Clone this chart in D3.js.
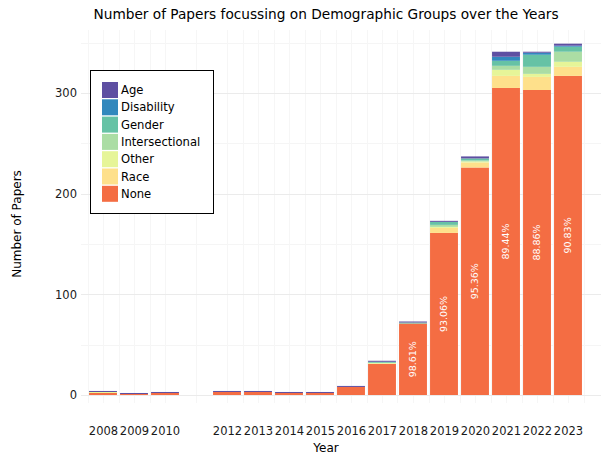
<!DOCTYPE html>
<html>
<head>
<meta charset="utf-8">
<script src="https://cdn.jsdelivr.net/npm/d3@7"></script>
<style>
  body { margin: 0; background: #fff; }
  svg { display: block; font-family: "DejaVu Sans", sans-serif; }
</style>
</head>
<body>
<svg id="chart" width="601" height="454"></svg>
<script>
const years = [2008, 2009, 2010, 2012, 2013, 2014, 2015, 2016, 2017, 2018, 2019, 2020, 2021, 2022, 2023];
const categories = ["Age", "Disability", "Gender", "Intersectional", "Other", "Race", "None"];
const colors = ["#5E4FA2", "#3288BD", "#66C2A5", "#ABDDA4", "#E6F598", "#FEE08B", "#F46D43"];

const none           = [2, 1, 2, 3, 3, 2, 2, 8, 31, 71, 161, 226, 305, 303, 317];
const race           = [0, 0, 0, 0, 0, 0, 0, 0, 0, 0, 5, 5, 12, 13, 9];
const other          = [1, 0, 0, 0, 0, 0, 0, 0, 1, 0, 1, 1, 6, 3, 5];
const intersectional = [0, 0, 0, 0, 0, 0, 0, 0, 0, 0, 2, 1, 4, 7, 10];
const gender         = [0, 0, 0, 0, 0, 0, 0, 0, 1, 1, 3, 2, 5, 12, 5];
const disability     = [0, 0, 0, 0, 0, 0, 0, 0, 0, 0, 0, 0, 4, 2, 1];
const age            = [1, 1, 1, 1, 1, 1, 1, 1, 1, 1, 1, 2, 5, 1, 2];

const pctLabels = ["", "", "", "", "", "", "", "", "", "98.61%", "93.06%", "95.36%", "89.44%", "88.86%", "90.83%"];

const yTicks = [0, 100, 200, 300];
const yMinor = [50, 150, 250, 350];

const seriesByCat = { Age: age, Disability: disability, Gender: gender, Intersectional: intersectional, Other: other, Race: race, None: none };

const rows = years.map((y, i) => {
  const r = { year: y };
  categories.forEach(c => r[c] = seriesByCat[c][i]);
  return r;
});

const svg = d3.select("#chart");
const panel = { left: 81, right: 601, top: 30, bottom: 403 };

const x = d3.scaleLinear().domain([2008, 2023]).range([103, 568]);
const y = d3.scaleLinear().domain([0, 300]).range([395, 93]);
const color = d3.scaleOrdinal().domain(categories).range(colors);
const bw = (x(2009) - x(2008)) * 0.9;

// minor vertical breaks: midpoints between consecutive major years
const xMinor = [];
for (let i = 0; i < years.length - 1; i++) xMinor.push((years[i] + years[i + 1]) / 2);
xMinor.unshift(years[0] - 0.5);
xMinor.push(years[years.length - 1] + 0.5);

const grid = svg.append("g");
grid.selectAll(".hmin").data(yMinor).join("line")
  .attr("x1", panel.left).attr("x2", panel.right)
  .attr("y1", d => Math.round(y(d)) + 0.5).attr("y2", d => Math.round(y(d)) + 0.5)
  .attr("stroke", "#f5f5f5").attr("stroke-width", 1);
grid.selectAll(".vmin").data(xMinor).join("line")
  .attr("y1", panel.top).attr("y2", panel.bottom)
  .attr("x1", d => Math.round(x(d)) + 0.5).attr("x2", d => Math.round(x(d)) + 0.5)
  .attr("stroke", "#f6f6f6").attr("stroke-width", 1);
grid.selectAll(".vmaj").data(years).join("line")
  .attr("y1", panel.top).attr("y2", panel.bottom)
  .attr("x1", d => Math.round(x(d)) + 0.5).attr("x2", d => Math.round(x(d)) + 0.5)
  .attr("stroke", "#f6f6f6").attr("stroke-width", 1);
grid.selectAll(".hmaj").data(yTicks).join("line")
  .attr("x1", panel.left).attr("x2", panel.right)
  .attr("y1", d => Math.round(y(d)) + 0.5).attr("y2", d => Math.round(y(d)) + 0.5)
  .attr("stroke", "#ebebeb").attr("stroke-width", 1.1);

// stacked bars: None at bottom, Age on top
const stackKeys = categories.slice().reverse();
const stacked = d3.stack().keys(stackKeys)(rows);

svg.append("g").selectAll("g").data(stacked).join("g")
  .attr("fill", d => color(d.key))
  .selectAll("rect").data(d => d).join("rect")
  .attr("x", d => x(d.data.year) - bw / 2)
  .attr("width", bw)
  .attr("y", d => y(d[1]))
  .attr("height", d => Math.max(0, y(d[0]) - y(d[1])));

// percentage labels in None segment
const labG = svg.append("g");
years.forEach((yr, i) => {
  if (!pctLabels[i]) return;
  const cx = x(yr), cy = y(none[i] / 2);
  labG.append("text")
    .attr("transform", `translate(${cx},${cy}) rotate(-90)`)
    .attr("text-anchor", "middle").attr("dy", "0.35em")
    .attr("fill", "#ffffff").attr("font-size", "9.5px")
    .text(pctLabels[i]);
});

// axes
const xAxis = d3.axisBottom(x).tickValues(years).tickFormat(d3.format("d")).tickSize(0).tickPadding(0);
const gx = svg.append("g").attr("transform", `translate(0,${427})`).call(xAxis);
gx.select(".domain").remove();
gx.selectAll("text").attr("fill", "#1a1a1a").attr("font-size", "11.5px").attr("font-family", "DejaVu Sans, sans-serif");

const yAxis = d3.axisLeft(y).tickValues(yTicks).tickSize(0).tickPadding(0);
const gy = svg.append("g").attr("transform", `translate(${77},0)`).call(yAxis);
gy.select(".domain").remove();
gy.selectAll("text").attr("fill", "#1a1a1a").attr("font-size", "11.5px").attr("font-family", "DejaVu Sans, sans-serif");

// titles
svg.append("text").attr("x", 326).attr("y", 18.5).attr("text-anchor", "middle")
  .attr("font-size", "13.7px").attr("fill", "#000")
  .text("Number of Papers focussing on Demographic Groups over the Years");
svg.append("text").attr("x", 326).attr("y", 452).attr("text-anchor", "middle")
  .attr("font-size", "12px").attr("fill", "#000").text("Year");
svg.append("text").attr("transform", `translate(21,${224}) rotate(-90)`).attr("text-anchor", "middle")
  .attr("font-size", "12px").attr("fill", "#000").text("Number of Papers");

// legend
const leg = svg.append("g");
leg.append("rect").attr("x", 90.5).attr("y", 70.5).attr("width", 123).attr("height", 143)
  .attr("fill", "#fff").attr("stroke", "#000").attr("stroke-width", 1);
const keyH = 17.3;
categories.forEach((c, i) => {
  const ky = 82 + i * keyH;
  leg.append("rect").attr("x", 102).attr("y", ky).attr("width", 16).attr("height", 16).attr("fill", color(c));
  leg.append("text").attr("x", 121).attr("y", ky + 8).attr("dy", "0.35em")
    .attr("font-size", "11.6px").attr("fill", "#000").text(c);
});
</script>
</body>
</html>
